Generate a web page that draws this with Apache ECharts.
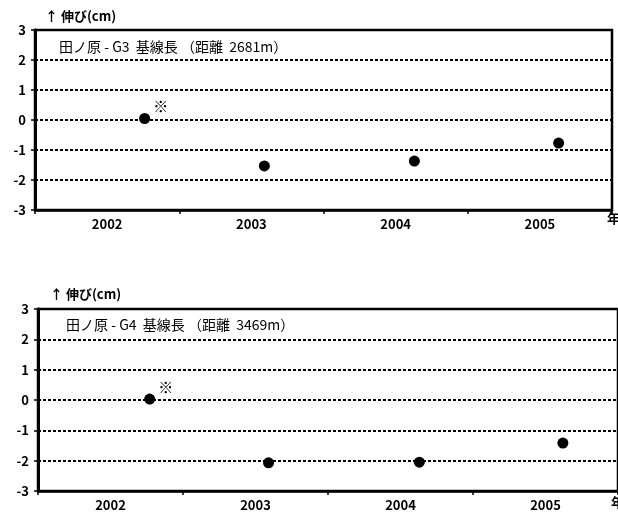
<!DOCTYPE html>
<html><head><meta charset="utf-8">
<script src="https://cdn.jsdelivr.net/npm/echarts@6/dist/echarts.min.js"></script>
<style>html,body{margin:0;padding:0;background:#fff}#c{width:618px;height:518px}</style>
</head><body><div id="c"></div>
<script>
var years = ['2002', '2003', '2004', '2005'];
var yTicks = [-3, -2, -1, 0, 1, 2, 3];
var g3Title = '田ノ原 - G3  基線長 （距離  2681m）';
var g4Title = '田ノ原 - G4  基線長 （距離  3469m）';
var yName = '↑ 伸び(cm)';
var g3Time = [2002.76, 2003.59, 2004.63, 2005.63];
var g3Value = [0.05, -1.53, -1.37, -0.77];
var g4Time = [2002.77, 2003.59, 2004.63, 2005.62];
var g4Value = [0.03, -2.07, -2.05, -1.42];
var noteMark = '※';

var font = '"Noto Sans CJK JP", "DejaVu Sans", sans-serif';
function pts(t, v) {
  return t.map(function (x, i) {
    var d = { value: [x, v[i]] };
    if (i === 0) d.label = { show: true, formatter: noteMark, position: 'right', offset: [-2, -12], color: '#000', fontSize: 15, fontWeight: 'bold', fontFamily: font };
    return d;
  });
}
function valX(gi) {
  return { type: 'value', gridIndex: gi, min: 2002, max: 2006, interval: 1,
    axisLine: { show: true, onZero: false, lineStyle: { color: '#000', width: 2.5 } },
    axisTick: { show: true, inside: false, length: 4, lineStyle: { color: '#000', width: 1.5 } },
    axisLabel: { show: false }, splitLine: { show: false } };
}
function catX(gi) {
  return { type: 'category', gridIndex: gi, data: years, boundaryGap: true, position: 'bottom',
    axisLine: { show: false }, axisTick: { show: false },
    axisLabel: { show: true, color: '#000', fontWeight: 'bold', fontSize: 13, fontFamily: font, margin: 8 } };
}
function yAx(gi) {
  return { type: 'value', gridIndex: gi, min: yTicks[0], max: yTicks[yTicks.length - 1], interval: 1,
    axisLine: { show: true, onZero: false, lineStyle: { color: '#000', width: 3 } },
    axisTick: { show: true, length: 4, lineStyle: { color: '#000', width: 1.5 } },
    axisLabel: { color: '#000', fontWeight: 'bold', fontSize: 13, fontFamily: font, margin: 9 },
    splitLine: { show: true, lineStyle: { color: '#000', width: 2, type: [3, 2] } } };
}
var chart = echarts.init(document.getElementById('c'));
chart.setOption({
  animation: false,
  backgroundColor: '#fff',
  grid: [
    { left: 35, top: 30, width: 577, height: 180, show: true, borderColor: '#000', borderWidth: 2.5, backgroundColor: 'transparent' },
    { left: 38, top: 309, width: 584, height: 182, show: true, borderColor: '#000', borderWidth: 2.5, backgroundColor: 'transparent' }
  ],
  title: [
    { text: g3Title, left: 54, top: 35, textStyle: { fontSize: 14, fontWeight: 'normal', color: '#000', fontFamily: font } },
    { text: g4Title, left: 61, top: 313, textStyle: { fontSize: 14, fontWeight: 'normal', color: '#000', fontFamily: font } },
    { text: yName, left: 40, top: 5, textStyle: { fontSize: 13, fontWeight: 'bold', color: '#000', fontFamily: font } },
    { text: yName, left: 45, top: 283, textStyle: { fontSize: 13, fontWeight: 'bold', color: '#000', fontFamily: font } }
  ],
  graphic: [
    { type: 'text', left: 607, top: 212, style: { text: '年', fill: '#000', font: 'bold 13px "Noto Sans CJK JP"' } },
    { type: 'text', left: 611, top: 496, style: { text: '年', fill: '#000', font: 'bold 13px "Noto Sans CJK JP"' } }
  ],
  xAxis: [valX(0), catX(0), valX(1), catX(1)],
  yAxis: [yAx(0), yAx(1)],
  series: [
    { type: 'scatter', xAxisIndex: 0, yAxisIndex: 0, symbolSize: 11, itemStyle: { color: '#000', opacity: 1 }, data: pts(g3Time, g3Value) },
    { type: 'scatter', xAxisIndex: 2, yAxisIndex: 1, symbolSize: 11, itemStyle: { color: '#000', opacity: 1 }, data: pts(g4Time, g4Value) }
  ]
});
</script></body></html>
